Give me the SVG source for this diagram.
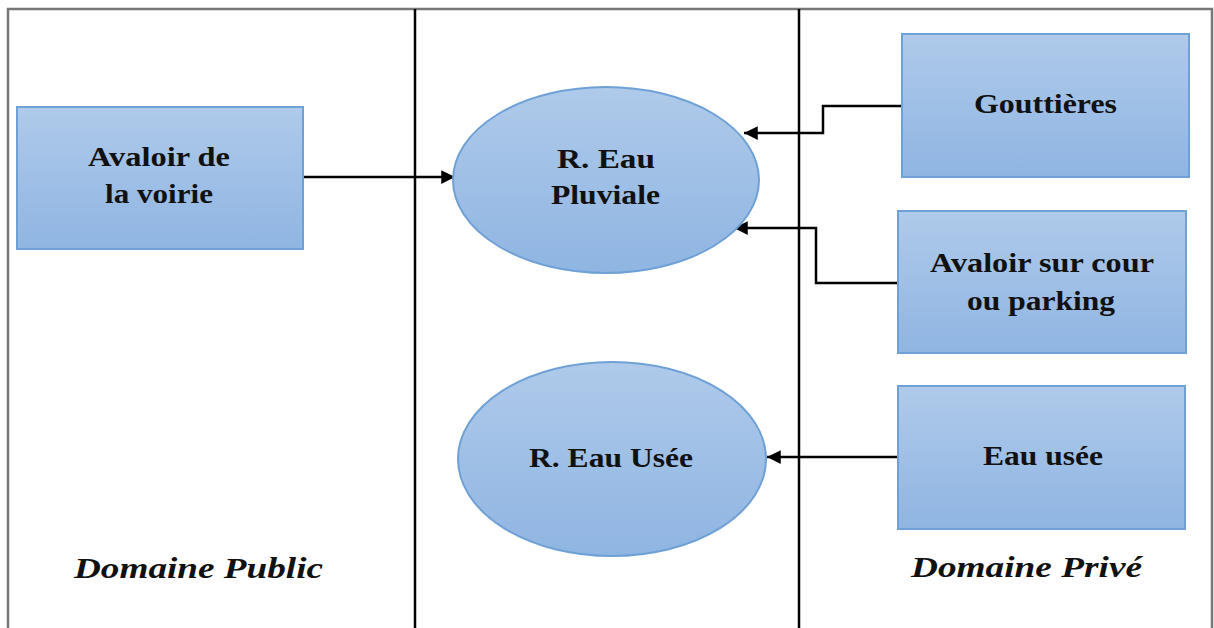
<svg xmlns="http://www.w3.org/2000/svg" width="1214" height="628" viewBox="0 0 1214 628">
<style>
.n{stroke:#6fa0d6;stroke-width:2}
.t{font-family:"Liberation Serif",serif;font-weight:bold;font-size:27px;fill:#111;text-anchor:start}
.d{font-family:"Liberation Serif",serif;font-weight:bold;font-style:italic;font-size:30px;fill:#111;text-anchor:start}
.c{fill:none;stroke:#000;stroke-width:2.5}
.frame{fill:none;stroke:#000;stroke-width:2.5}
</style>
<defs>
<linearGradient id="g" x1="0" y1="0" x2="0" y2="1">
<stop offset="0" stop-color="#afcaea"/>
<stop offset="1" stop-color="#8fb5e2"/>
</linearGradient>
<marker id="a" viewBox="0 0 10 10" refX="10" refY="5" markerWidth="5.5" markerHeight="5.5" orient="auto" markerUnits="strokeWidth">
<path d="M0,0 L10,5 L0,10 z" fill="#000"/>
</marker>
</defs>
<rect width="1214" height="628" fill="#fff"/>
<g id="frame">
<path d="M8,640 L8,9 L1212,9 L1212,640" fill="none" stroke="#777" stroke-width="2.5"/>
<line x1="415" y1="9" x2="415" y2="628" class="frame"/>
<line x1="799" y1="9" x2="799" y2="628" class="frame"/>
</g>
<g id="connectors">
<path class="c" d="M303,177 L455,177" marker-end="url(#a)"/>
<path class="c" d="M902,106 L823,106 L823,133 L744,133" marker-end="url(#a)"/>
<path class="c" d="M898,283 L816,283 L816,228 L734,228" marker-end="url(#a)"/>
<path class="c" d="M898,457 L767,457" marker-end="url(#a)"/>
</g>
<g id="avaloir-voirie">
<rect x="17" y="107" width="286" height="142" fill="url(#g)" class="n"/>
<text class="t" x="88" y="166" textLength="142" lengthAdjust="spacingAndGlyphs">Avaloir de</text>
<text class="t" x="105" y="203" textLength="108" lengthAdjust="spacingAndGlyphs">la voirie</text>
</g>
<g id="eau-pluviale">
<ellipse cx="606" cy="180" rx="153" ry="93" fill="url(#g)" class="n"/>
<text class="t" x="557" y="168" textLength="98" lengthAdjust="spacingAndGlyphs">R. Eau</text>
<text class="t" x="551" y="204" textLength="109" lengthAdjust="spacingAndGlyphs">Pluviale</text>
</g>
<g id="eau-usee-reseau">
<ellipse cx="612" cy="459" rx="154" ry="97" fill="url(#g)" class="n"/>
<text class="t" x="529" y="467" textLength="164" lengthAdjust="spacingAndGlyphs">R. Eau Usée</text>
</g>
<g id="gouttieres">
<rect x="902" y="34" width="287" height="143" fill="url(#g)" class="n"/>
<text class="t" x="974" y="113" textLength="143" lengthAdjust="spacingAndGlyphs">Gouttières</text>
</g>
<g id="avaloir-cour">
<rect x="898" y="211" width="288" height="142" fill="url(#g)" class="n"/>
<text class="t" x="930" y="272" textLength="224" lengthAdjust="spacingAndGlyphs">Avaloir sur cour</text>
<text class="t" x="967" y="310" textLength="148" lengthAdjust="spacingAndGlyphs">ou parking</text>
</g>
<g id="eau-usee">
<rect x="898" y="386" width="287" height="143" fill="url(#g)" class="n"/>
<text class="t" x="983" y="465" textLength="120" lengthAdjust="spacingAndGlyphs">Eau usée</text>
</g>
<g id="labels">
<text class="d" x="74" y="578" textLength="249" lengthAdjust="spacingAndGlyphs">Domaine Public</text>
<text class="d" x="911" y="577" textLength="231" lengthAdjust="spacingAndGlyphs">Domaine Privé</text>
</g>
</svg>
